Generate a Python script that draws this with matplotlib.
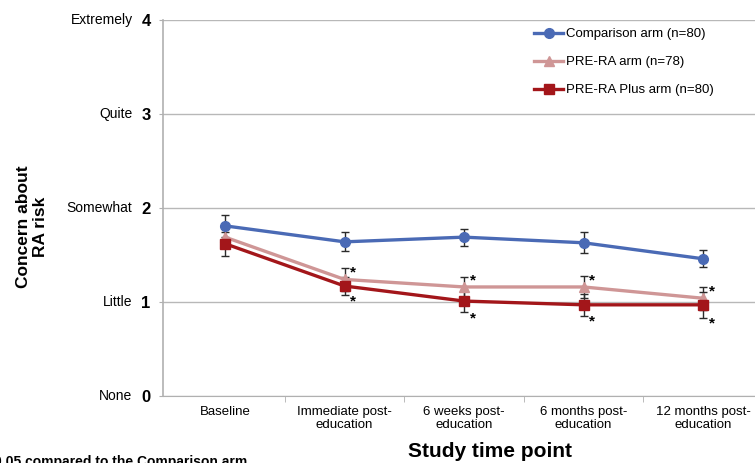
import numpy as np
import matplotlib
matplotlib.use('Agg')
import matplotlib.pyplot as plt

plt.rcParams['font.family'] = ['Liberation Sans', 'DejaVu Sans']

# Data
time_points = ['Baseline', 'Immediate post-\neducation', '6 weeks post-\neducation',
               '6 months post-\neducation', '12 months post-\neducation']
level_values = [0, 1, 2, 3, 4]
level_names = ['None', 'Little', 'Somewhat', 'Quite', 'Extremely']

comparison = [1.81, 1.64, 1.69, 1.63, 1.46]
comparison_err = [0.12, 0.10, 0.09, 0.11, 0.09]
prera = [1.69, 1.24, 1.16, 1.16, 1.04]
prera_err = [0.12, 0.12, 0.11, 0.12, 0.12]
prera_plus = [1.62, 1.17, 1.01, 0.97, 0.97]
prera_plus_err = [0.13, 0.10, 0.12, 0.12, 0.14]

# which points are significant (p<0.05 vs comparison)
sig_prera = [False, True, True, True, True]
sig_plus = [False, True, True, True, True]

fig = plt.figure(figsize=(7.55, 4.63), dpi=100)
ax = fig.add_axes([0.216, 0.1447, 0.784, 0.8121])

x = np.arange(len(time_points))

series = [
    (comparison, comparison_err, '#4A6AB5', 'o', 'Comparison arm (n=80)'),
    (prera, prera_err, '#CF9696', '^', 'PRE-RA arm (n=78)'),
    (prera_plus, prera_plus_err, '#A3161A', 's', 'PRE-RA Plus arm (n=80)'),
]
for vals, errs, col, mk, lab in series:
    ax.errorbar(x, vals, yerr=errs, fmt='none', ecolor='#2b2b2b', elinewidth=1,
                capsize=3, capthick=1, zorder=2)
    ax.plot(x, vals, color=col, marker=mk, markersize=7, linewidth=2.4,
            label=lab, zorder=3)

# asterisks next to error bar caps
for i in x:
    if sig_prera[i]:
        ax.annotate('*', (i, prera[i] + prera_err[i]), xytext=(4, -6),
                    textcoords='offset points', fontsize=11, fontweight='bold')
    if sig_plus[i]:
        ax.annotate('*', (i, prera_plus[i] - prera_plus_err[i]), xytext=(4, -7),
                    textcoords='offset points', fontsize=11, fontweight='bold')

ax.set_xlim(-0.519, 4.435)
ax.set_ylim(0, 4)
ax.set_yticks(level_values)
ax.set_yticklabels([str(v) for v in level_values], fontsize=12, fontweight='bold')
ax.tick_params(axis='y', length=3, color='#b0b0b0', pad=6)
for v, name in zip(level_values, level_names):
    ax.annotate(name, (0, v), xycoords=('axes fraction', 'data'), xytext=(-22, 0),
                textcoords='offset points', ha='right', va='center', fontsize=10)

ax.set_xticks(x)
ax.set_xticklabels(time_points, fontsize=9.5, linespacing=1.1)
ax.tick_params(axis='x', length=0, pad=7)
ax.set_xticks(x[:-1] + 0.5, minor=True)
ax.tick_params(axis='x', which='minor', length=4, color='#b0b0b0')

ax.grid(axis='y', color='#b8b8b8', linewidth=1)
ax.set_axisbelow(True)
for s in ['top', 'right']:
    ax.spines[s].set_visible(False)
ax.spines['left'].set_color('#b0b0b0')
ax.spines['bottom'].set_color('#b0b0b0')
ax.spines['left'].set_linewidth(1.2)

ax.legend(loc='upper left', bbox_to_anchor=(0.607, 1.01), frameon=False,
          fontsize=9.5, handlelength=2.2, labelspacing=1.2, handletextpad=0.2)

fig.text(32 / 755, 0.51, 'Concern about\nRA risk', rotation=90, ha='center',
         va='center', fontsize=12.5, fontweight='bold', linespacing=1.1)
fig.text(490 / 755, 0.024, 'Study time point', ha='center', va='center',
         fontsize=15, fontweight='bold')
fig.text(247 / 755, -0.014, '*p<0.05 compared to the Comparison arm', ha='right',
         va='bottom', fontsize=10, fontweight='bold')

fig.savefig('out.png', dpi=100)
